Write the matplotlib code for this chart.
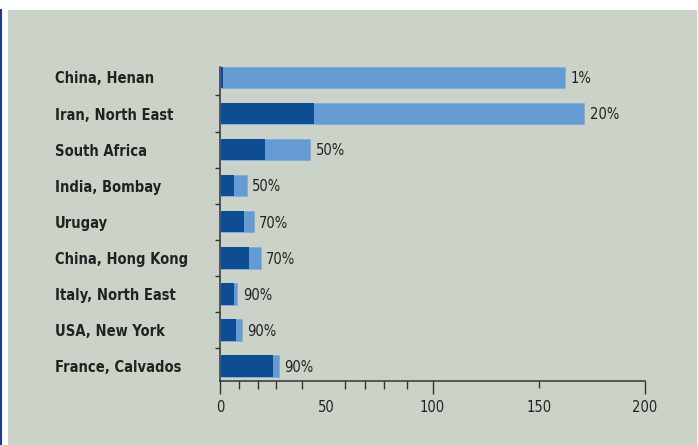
import matplotlib
matplotlib.use("Agg")
import matplotlib.pyplot as plt
from matplotlib.patches import Rectangle
from matplotlib.lines import Line2D
import numpy as np

categories = ["China, Henan", "Iran, North East", "South Africa", "India, Bombay",
              "Urugay", "China, Hong Kong", "Italy, North East", "USA, New York",
              "France, Calvados"]
totals = [162, 171, 41.9, 12.1, 15.4, 18.7, 7.8, 9.9, 27.3]
dark = [1.2, 44, 20.9, 6.3, 10.7, 13.3, 6.1, 7.2, 24.5]
pct_labels = ["1%", "20%", "50%", "50%", "70%", "70%", "90%", "90%", "90%"]
xtick_vals = [0, 50, 100, 150, 200]
minor_vals = [9, 18, 26.5, 38.5, 59, 68, 77, 88]

W, H = 698, 445
fig = plt.figure(figsize=(W / 100, H / 100), dpi=100)
fig.patch.set_facecolor("white")

plt.rcParams["font.family"] = ["DejaVu Sans"]
plt.rcParams["font.stretch"] = "condensed"

panel = "#CBD3C8"
fig.patches.append(Rectangle((8 / W, 0), (697 - 8) / W, (H - 10) / H,
                             transform=fig.transFigure, facecolor=panel,
                             edgecolor="none", zorder=-10))
fig.lines.append(Line2D([1 / W, 1 / W], [0, (H - 10) / H], transform=fig.transFigure,
                        color="#1F3A8F", lw=1.5, zorder=-10))

ax = fig.add_axes([220 / W, (H - 381) / H, (645 - 220) / W, (381 - 67) / H])
ax.set_facecolor("none")
ax.set_zorder(5)

dark_col = "#0E4C94"
light_col = "#659BD5"
y = np.arange(len(categories))
h = 0.6
ax.barh(y, totals, height=h, color=light_col, edgecolor="#7FAEDD", linewidth=0.6, left=0.4)
ax.barh(y, dark, height=h, color=dark_col, edgecolor="none", left=0.4)
for yi, t, lab in zip(y, totals, pct_labels):
    ax.annotate(lab, xy=(t + 0.4, yi), xytext=(4, -1), textcoords="offset points",
                ha="left", va="center", fontsize=10.5, color="#222222", fontstretch="condensed")

ax.set_xlim(0, 200)
ax.set_ylim(8.42, -0.29)

for s in ["top", "right"]:
    ax.spines[s].set_visible(False)
for s in ["left", "bottom"]:
    ax.spines[s].set_color("#333333")
    ax.spines[s].set_linewidth(1.1)

ax.set_xticks(xtick_vals)
ax.set_xticklabels([str(v) for v in xtick_vals], fontsize=10.5, color="#222222",
                   fontstretch="condensed")
ax.set_xticks(minor_vals, minor=True)
ax.tick_params(axis="x", which="major", direction="out", length=9.4, width=1.0,
               color="#333333", pad=4.5)
ax.tick_params(axis="x", which="minor", direction="out", length=5.8, width=1.0,
               color="#333333")
mt = ax.xaxis.get_major_ticks()
mt[1].tick1line.set_visible(False)
mt[3].tick1line.set_markersize(5.2)

ax.set_yticks(y)
ax.set_yticklabels(categories, fontsize=10.5, fontweight="bold", color="#222222", ha="left",
                   fontstretch="condensed")
ax.set_yticks(y[:-1] + 0.5, minor=True)
ax.tick_params(axis="y", which="major", length=0, pad=(220 - 55) * 0.72)
ax.tick_params(axis="y", which="minor", direction="out", length=3.8, width=1.0,
               color="#333333")

fig.savefig("out.png", dpi=100, facecolor=fig.get_facecolor())
